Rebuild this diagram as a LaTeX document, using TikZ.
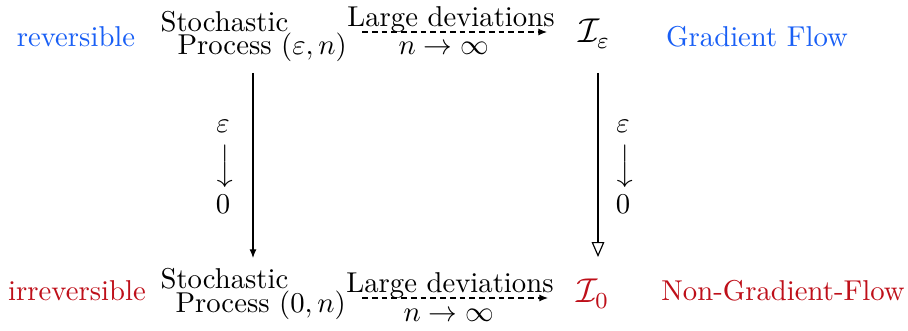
\documentclass[tikz,border=0pt]{standalone}
\usepackage{amsmath}
\usepackage{graphicx}
\usetikzlibrary{arrows.meta}
\definecolor{revblue}{RGB}{25,95,245}
\definecolor{irrred}{RGB}{190,15,25}
\newcommand{\longdownarr}{\rotatebox[origin=c]{-90}{$\longrightarrow$}}
\begin{document}
\begin{tikzpicture}[x=0.3484pt,y=-0.3484pt,
  txt/.style={anchor=base,inner sep=0pt},
  txtw/.style={anchor=base west,inner sep=0pt},
  smallarrow/.style={-{Latex[length=3pt,width=2.4pt]}},
  dasharrow/.style={smallarrow,dash pattern=on 2pt off 1.4pt},
  openarrow/.style={-{Triangle[open,length=5.2pt,width=4.4pt]}},
  limlabel/.style={inner sep=0pt,anchor=center}
]
\useasboundingbox (0,0) rectangle (908,331);
% side labels
\node[txt,text=revblue] (rev) at (76,47) {reversible};
\node[txt,text=revblue] (gf) at (757,47) {Gradient Flow};
\node[txt,text=irrred] (irr) at (77,301) {irreversible};
\node[txt,text=irrred] (ngf) at (783,301) {Non-Gradient-Flow};
% top row
\node[txtw] (tla) at (160,32) {Stochastic};
\node[txtw] (tlb) at (177,55) {Process $(\varepsilon,n)$};
\node[txtw,font=\large] (Ie) at (578,43) {$\mathcal{I}_\varepsilon$};
\node[txt] (ldt) at (451,27) {Large deviations};
\node[txt] (nt) at (444,55) {$n\to\infty$};
% bottom row
\node[txtw] (bla) at (160,288) {Stochastic};
\node[txtw] (blb) at (175,313) {Process $(0,n)$};
\node[txtw,font=\large,text=irrred] (I0) at (576,303) {$\mathcal{I}_0$};
\node[txt] (ldb) at (450,293) {Large deviations};
\node[txt] (nb) at (449,322) {$n\to\infty$};
% limit labels
\node[limlabel] (lim1) at (223,166) {$\begin{array}{c}\varepsilon\\ \longdownarr\\ 0\end{array}$};
\node[limlabel] (lim2) at (623,166) {$\begin{array}{c}\varepsilon\\ \longdownarr\\ 0\end{array}$};
% connector end points
\coordinate (ht1) at (362,32);
\coordinate (ht2) at (547,32);
\coordinate (hb1) at (362,298);
\coordinate (hb2) at (548,298);
\coordinate (vl1) at (253,73);
\coordinate (vl2) at (253,258);
\coordinate (vr1) at (598,73);
\coordinate (vr2) at (598,257);
% connectors
\draw[dasharrow] (ht1) -- (ht2);
\draw[dasharrow] (hb1) -- (hb2);
\draw[smallarrow] (vl1) -- (vl2);
\draw[openarrow] (vr1) -- (vr2);
\end{tikzpicture}
\end{document}
